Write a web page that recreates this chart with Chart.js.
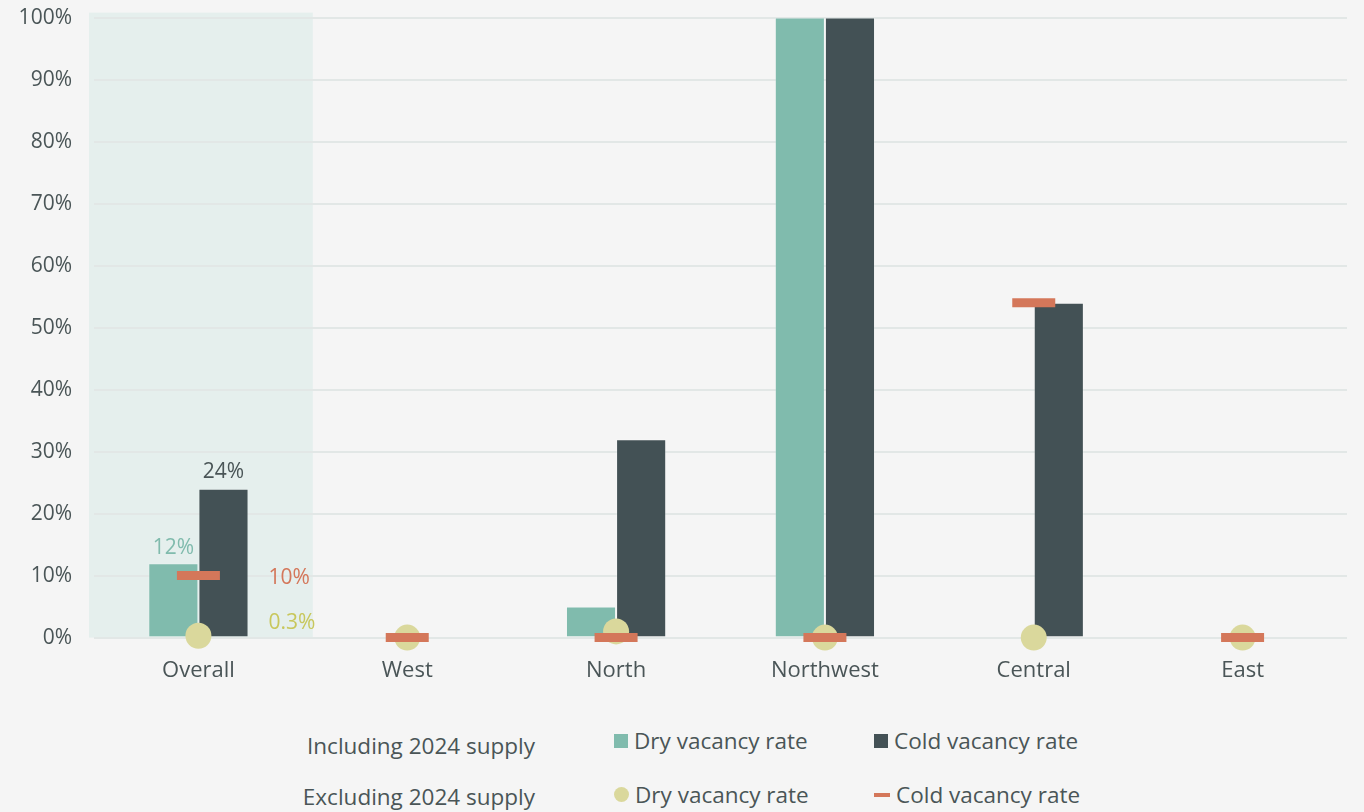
<!DOCTYPE html>
<html>
<head>
<meta charset="utf-8">
<script src="https://cdn.jsdelivr.net/npm/chart.js@4.4.1/dist/chart.umd.min.js"></script>
<style>
  html, body { margin: 0; padding: 0; background: #f5f5f5; }
  body { width: 1364px; height: 812px; position: relative; overflow: hidden; font-family: "Open Sans", sans-serif; color: #4a5557; }
  #chartWrap { position: absolute; left: 0; top: -17px; width: 1364px; height: 721px; }
  .legend-row { position: absolute; left: 0; width: 1364px; height: 30px; font-size: 22.5px; }
  .legend-row .title { position: absolute; right: 829px; white-space: nowrap; }
  .legend-row .item { position: absolute; white-space: nowrap; display: flex; align-items: center; }
  .legend-row .mark { display: inline-block; margin-right: 6px; }
  .sq-dry { width: 14px; height: 14px; background: #80bbad; }
  .sq-cold { width: 14px; height: 14px; background: #435155; }
  .dot-dry { width: 15px; height: 15px; border-radius: 50%; background: #dad89c; }
  .dash-cold { width: 16px; height: 4px; background: #d4775a; }
</style>
</head>
<body>
<div id="chartWrap"><canvas id="vacancyChart"></canvas></div>

<div class="legend-row" style="top:725px">
  <span class="title" style="top:5px">Including 2024 supply</span>
  <span class="item" style="left:614px"><span class="mark sq-dry"></span>Dry vacancy rate</span>
  <span class="item" style="left:874px"><span class="mark sq-cold"></span>Cold vacancy rate</span>
</div>
<div class="legend-row" style="top:779px">
  <span class="title" style="top:2px">Excluding 2024 supply</span>
  <span class="item" style="left:614px"><span class="mark dot-dry"></span>Dry vacancy rate</span>
  <span class="item" style="left:874px"><span class="mark dash-cold"></span>Cold vacancy rate</span>
</div>

<script>
// ---- data ----
const categories = ['Overall', 'West', 'North', 'Northwest', 'Central', 'East'];
const dryInclSupply = [12, 0, 5, 100, 0, 0];
const coldInclSupply = [24, 0, 32, 100, 54, 0];
const dryExclSupply = [0.3, 0, 1, 0, 0, 0];
const coldExclSupply = [10, 0, 0, 0, 54, 0];
const yTickValues = [0, 10, 20, 30, 40, 50, 60, 70, 80, 90, 100];

const COLORS = {
  dry: '#80bbad',
  cold: '#435155',
  dryExcl: '#dad89c',
  coldExcl: '#d4775a',
  dryExclText: '#c8c75c',
  text: '#4a5557',
  grid: '#e2e7e6',
  band: '#e5efed'
};
const FONT = '"Open Sans", sans-serif';

// shaded column behind the "Overall" group
const overallBand = {
  id: 'overallBand',
  beforeDraw(chart) {
    const { ctx, chartArea, scales } = chart;
    const catW = scales.x.width / categories.length;
    const cx = scales.x.getPixelForValue(0);
    ctx.save();
    ctx.fillStyle = COLORS.band;
    const top = chartArea.top - 5;
    const bottom = scales.y.getPixelForValue(0);
    ctx.fillRect(cx - catW / 2 - 5, top, catW + 15, bottom - top);
    ctx.restore();
  }
};

// value labels on the Overall group
const overallLabels = {
  id: 'overallLabels',
  afterDatasetsDraw(chart) {
    const { ctx } = chart;
    const el = (ds) => chart.getDatasetMeta(ds).data[0];
    ctx.save();
    ctx.font = '21px ' + FONT;
    ctx.textBaseline = 'middle';

    ctx.textAlign = 'center';
    const dryBar = el(0);
    ctx.fillStyle = COLORS.dry;
    ctx.fillText(dryInclSupply[0] + '%', dryBar.x, dryBar.y - 15);

    const coldBar = el(1);
    ctx.fillStyle = COLORS.text;
    ctx.fillText(coldInclSupply[0] + '%', coldBar.x, coldBar.y - 17);

    ctx.textAlign = 'left';
    const dash = el(3);
    ctx.fillStyle = COLORS.coldExcl;
    ctx.fillText(coldExclSupply[0] + '%', dash.x + 70, dash.y + 2);

    const dot = el(2);
    ctx.fillStyle = COLORS.dryExclText;
    ctx.fillText(dryExclSupply[0] + '%', dot.x + 70, dot.y - 13);
    ctx.restore();
  }
};

const ctx = document.getElementById('vacancyChart').getContext('2d');
new Chart(ctx, {
  type: 'bar',
  data: {
    labels: categories,
    datasets: [
      {
        label: 'Dry vacancy rate',
        data: dryInclSupply,
        backgroundColor: COLORS.dry,
        borderColor: 'rgba(255,255,255,0.2)',
        borderWidth: 1,
        order: 3
      },
      {
        label: 'Cold vacancy rate',
        data: coldInclSupply,
        backgroundColor: COLORS.cold,
        borderColor: 'rgba(255,255,255,0.2)',
        borderWidth: 1,
        order: 3
      },
      {
        type: 'line',
        label: 'Dry vacancy rate (excl. 2024 supply)',
        data: dryExclSupply,
        showLine: false,
        clip: false,
        pointStyle: 'circle',
        pointRadius: 13,
        pointHoverRadius: 13,
        pointBackgroundColor: COLORS.dryExcl,
        pointBorderWidth: 0,
        order: 2
      },
      {
        type: 'line',
        label: 'Cold vacancy rate (excl. 2024 supply)',
        data: coldExclSupply,
        showLine: false,
        clip: false,
        pointStyle: 'line',
        pointRadius: 21.5,
        pointHoverRadius: 21.5,
        pointBorderColor: COLORS.coldExcl,
        pointBorderWidth: 9,
        order: 1
      }
    ]
  },
  options: {
    responsive: true,
    maintainAspectRatio: false,
    animation: false,
    events: [],
    layout: { autoPadding: false, padding: { top: 0, right: 17, bottom: 0, left: 0 } },
    datasets: {
      bar: { barPercentage: 1, categoryPercentage: 0.48 }
    },
    plugins: {
      legend: { display: false },
      tooltip: { enabled: false }
    },
    scales: {
      x: {
        grid: { display: false, drawTicks: false },
        border: { display: false },
        ticks: {
          color: COLORS.text,
          font: { family: FONT, size: 22 },
          padding: 20
        }
      },
      y: {
        min: 0,
        max: 100,
        afterFit: (scale) => { scale.width = 94; },
        afterBuildTicks: (scale) => { scale.ticks = yTickValues.map(v => ({ value: v })); },
        grid: { color: COLORS.grid, lineWidth: 2, drawTicks: false },
        border: { display: false },
        ticks: {
          color: COLORS.text,
          font: { family: FONT, size: 21 },
          padding: 22,
          callback: v => v + '%'
        }
      }
    }
  },
  plugins: [overallBand, overallLabels]
});
</script>
</body>
</html>
